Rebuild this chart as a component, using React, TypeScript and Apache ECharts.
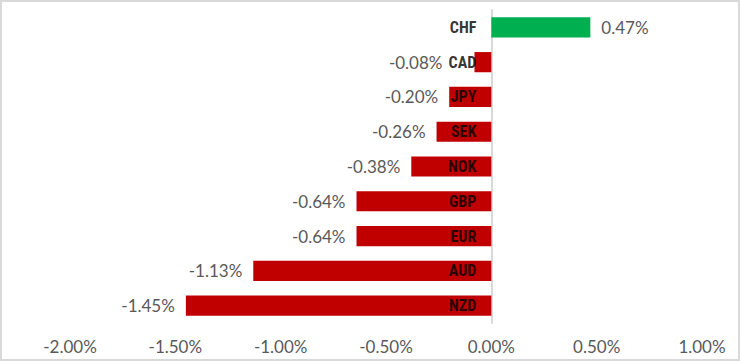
import React, { useEffect, useRef } from "react";
import * as echarts from "echarts";

const categories = ["CHF", "CAD", "JPY", "SEK", "NOK", "GBP", "EUR", "AUD", "NZD"];
const values = [0.47, -0.08, -0.2, -0.26, -0.38, -0.64, -0.64, -1.13, -1.45];
const positiveColor = "#00B050";
const negativeColor = "#C00000";

const narrow = '"Liberation Sans Narrow", "Arial Narrow", "Roboto Condensed", sans-serif';
const valueFont = 'Lato, "Open Sans", sans-serif';

export default function App() {
  const ref = useRef<HTMLDivElement>(null);
  useEffect(() => {
    document.body.style.margin = "0";
    const chart = echarts.init(ref.current!, null, { renderer: "svg" });
    chart.setOption({
      animation: false,
      backgroundColor: "#ffffff",
      graphic: [
        {
          type: "rect",
          shape: { x: 1, y: 1, width: 738, height: 359 },
          style: { fill: "none", stroke: "#d9d9d9", lineWidth: 2 },
          silent: true,
        },
      ],
      grid: { left: 70, right: 38, top: 10, bottom: 38, containLabel: false },
      xAxis: {
        type: "value",
        min: -2,
        max: 1,
        interval: 0.5,
        axisLine: { show: false },
        axisTick: { show: false },
        splitLine: { show: false },
        axisLabel: {
          formatter: (v: number) => v.toFixed(2) + "%",
          color: "#595959",
          fontSize: 17,
          fontFamily: valueFont,
          margin: 15,
        },
      },
      yAxis: {
        type: "category",
        data: categories,
        inverse: true,
        axisLine: { show: true, onZero: true, lineStyle: { color: "#d9d9d9", width: 2 } },
        axisTick: { show: false },
        axisLabel: { show: false },
      },
      series: [
        {
          type: "bar",
          barWidth: "58%",
          data: values.map((v, i) => ({
            value: v,
            itemStyle: { color: v >= 0 ? positiveColor : negativeColor },
            label: {
              show: true,
              position: v >= 0 ? "right" : "left",
              distance: categories[i] === "CAD" ? 32 : 11,
              formatter: (p: any) => p.value.toFixed(2) + "%",
              color: "#595959",
              fontSize: 17,
              fontFamily: valueFont,
            },
          })),
        },
        {
          type: "scatter",
          symbolSize: 0,
          z: 5,
          silent: true,
          data: categories.map((c) => [0, c]),
          label: {
            show: true,
            position: "left",
            distance: 15,
            formatter: (p: any) => p.value[1],
            color: "#000000",
            fontWeight: "bold",
            fontSize: 16,
            fontFamily: narrow,
          },
        },
      ],
    });
    return () => chart.dispose();
  }, []);
  return <div ref={ref} style={{ width: 740, height: 361 }} />;
}
